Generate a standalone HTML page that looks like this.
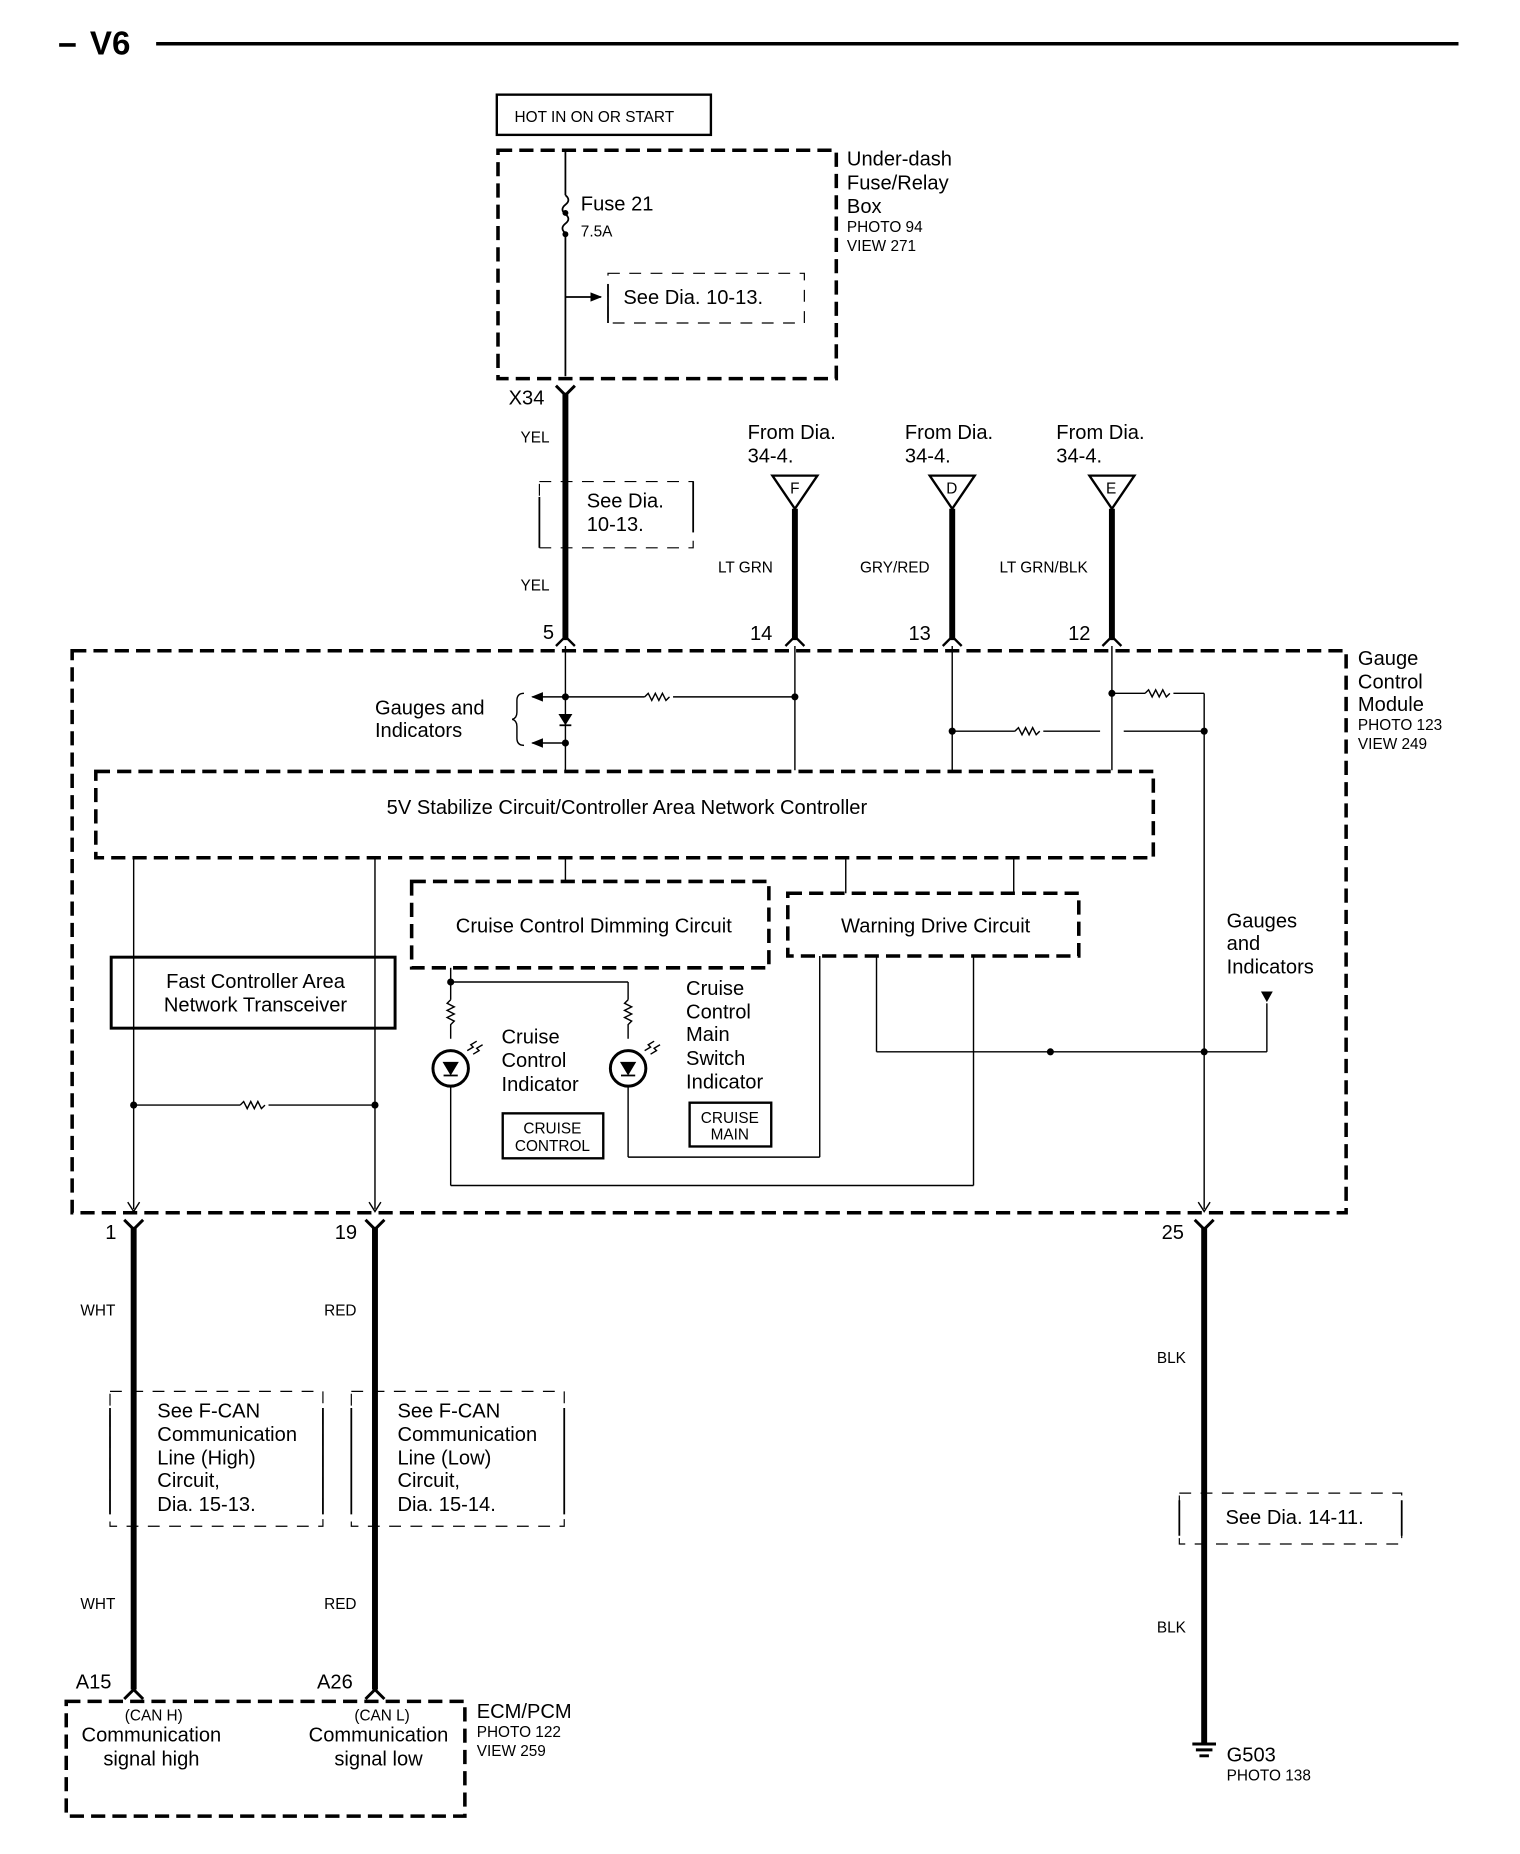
<!DOCTYPE html>
<html><head><meta charset="utf-8"><style>
html,body{margin:0;padding:0;background:#fff;}
svg{display:block;}
text{font-family:"Liberation Sans",sans-serif;fill:#000;}
.b{font-size:17px;}
.s{font-size:13px;}
</style></head><body>
<svg width="1520" height="1854" viewBox="0 0 1285 1567" preserveAspectRatio="none" xmlns="http://www.w3.org/2000/svg">
<defs>
<marker id="ah" markerWidth="10" markerHeight="10" refX="9" refY="5" orient="auto" markerUnits="userSpaceOnUse"><path d="M0,1 L10,5 L0,9 Z" fill="#000"/></marker>
</defs>
<g fill="none" stroke="#000">
<line x1="50" y1="38" x2="64" y2="38" stroke-width="3"/>
<line x1="132" y1="37" x2="1233" y2="37" stroke-width="3"/>
<rect x="420" y="80" width="181" height="34" stroke-width="2"/>
<rect x="421" y="127" width="286" height="193" stroke-width="3" stroke-dasharray="12,6"/>
<line x1="478" y1="127" x2="478" y2="165" stroke-width="1.5"/>
<path d="M478,165 q5,4 0,8 q-5,4 0,8 q5,4 0,8 q-5,4 0,8" stroke-width="1.5"/>
<line x1="478" y1="197" x2="478" y2="318" stroke-width="1.5"/>
<line x1="478" y1="251" x2="508" y2="251" stroke-width="1.5" marker-end="url(#ah)"/>
<path d="M514,231 L680,231 L680,273 L514,273 Z" stroke-width="1" stroke-dasharray="10,8"/>
<line x1="514" y1="240" x2="514" y2="273" stroke-width="1.5"/>
<path d="M470,326 L478,334 L486,326" stroke-width="2.5"/>
<line x1="478" y1="332" x2="478" y2="541" stroke-width="5"/>
<path d="M456,407 L586,407 L586,463 L456,463 Z" stroke-width="1" stroke-dasharray="10,8"/>
<line x1="456" y1="420" x2="456" y2="463" stroke-width="1.5"/>
<line x1="586" y1="407" x2="586" y2="450" stroke-width="1.5"/>
<path d="M653,402 L691,402 L672,430 Z" stroke-width="2"/>
<path d="M786,402 L824,402 L805,430 Z" stroke-width="2"/>
<path d="M921,402 L959,402 L940,430 Z" stroke-width="2"/>
<line x1="672" y1="430" x2="672" y2="541" stroke-width="5"/>
<line x1="805" y1="430" x2="805" y2="541" stroke-width="5"/>
<line x1="940" y1="430" x2="940" y2="541" stroke-width="5"/>
<path d="M470,546 L478,538 L486,546 M664,546 L672,538 L680,546 M797,546 L805,538 L813,546 M932,546 L940,538 L948,546" stroke-width="2"/>
<rect x="61" y="550" width="1077" height="475" stroke-width="3" stroke-dasharray="12,6"/>
<g stroke-width="1.2">
<line x1="478" y1="546" x2="478" y2="651"/>
<line x1="478" y1="589" x2="450" y2="589" marker-end="url(#ah)"/>
<line x1="478" y1="628" x2="450" y2="628" marker-end="url(#ah)"/>
<line x1="478" y1="589" x2="545" y2="589"/>
<path d="M545,589 l3,-3 l3,6 l3,-6 l3,6 l3,-6 l3,6 l3,-3"/>
<line x1="569" y1="589" x2="672" y2="589"/>
<line x1="672" y1="546" x2="672" y2="651"/>
<line x1="805" y1="546" x2="805" y2="651"/>
<line x1="805" y1="618" x2="858" y2="618"/>
<path d="M858,618 l3,-3 l3,6 l3,-6 l3,6 l3,-6 l3,6 l3,-3"/>
<line x1="882" y1="618" x2="930" y2="618"/>
<line x1="950" y1="618" x2="1018" y2="618"/>
<line x1="940" y1="546" x2="940" y2="651"/>
<line x1="940" y1="586" x2="968" y2="586"/>
<path d="M968,586 l3,-3 l3,6 l3,-6 l3,6 l3,-6 l3,6 l3,-3"/>
<line x1="992" y1="586" x2="1018" y2="586"/>
<line x1="1018" y1="586" x2="1018" y2="1022"/>
<path d="M1013,1016 L1018,1024 L1023,1016"/>
<path d="M443,586 q-6,0 -6,6 l0,10 q0,5 -4,6 q4,1 4,6 l0,10 q0,6 6,6"/>
<line x1="113" y1="725" x2="113" y2="1022"/>
<line x1="317" y1="725" x2="317" y2="1022"/>
<path d="M108,1016 L113,1024 L118,1016 M312,1016 L317,1024 L322,1016"/>
<line x1="113" y1="934" x2="203" y2="934"/>
<path d="M203,934 l3,-3 l3,6 l3,-6 l3,6 l3,-6 l3,6 l3,-3"/>
<line x1="227" y1="934" x2="317" y2="934"/>
<line x1="478" y1="725" x2="478" y2="745"/>
<line x1="715" y1="725" x2="715" y2="755"/>
<line x1="857" y1="725" x2="857" y2="755"/>
<line x1="381" y1="818" x2="381" y2="845"/>
<line x1="381" y1="830" x2="531" y2="830"/>
<line x1="531" y1="830" x2="531" y2="845"/>
<path d="M381,845 l-3,3 l6,3 l-6,3 l6,3 l-6,3 l6,3 l-3,3 l0,12"/>
<path d="M531,845 l-3,3 l6,3 l-6,3 l6,3 l-6,3 l6,3 l-3,3 l0,12"/>
<line x1="381" y1="918" x2="381" y2="1002"/>
<line x1="381" y1="1002" x2="823" y2="1002"/>
<line x1="823" y1="1002" x2="823" y2="808"/>
<line x1="531" y1="918" x2="531" y2="978"/>
<line x1="531" y1="978" x2="693" y2="978"/>
<line x1="693" y1="978" x2="693" y2="808"/>
<line x1="741" y1="808" x2="741" y2="889"/>
<line x1="741" y1="889" x2="1071" y2="889"/>
<line x1="1071" y1="889" x2="1071" y2="848"/>
</g>
<path d="M1066,838 L1076,838 L1071,847 Z" fill="#000" stroke="none"/>
<path d="M473,604 L483,604 L478,612 Z" fill="#000" stroke-width="1"/>
<line x1="473" y1="613" x2="483" y2="613" stroke-width="1.5"/>
<circle cx="381" cy="903" r="15" stroke-width="2.5"/>
<circle cx="531" cy="903" r="15" stroke-width="2.5"/>
<path d="M375,898 L387,898 L381,908 Z" fill="#000" stroke-width="1"/>
<line x1="375" y1="909" x2="387" y2="909" stroke-width="1.5"/>
<path d="M525,898 L537,898 L531,908 Z" fill="#000" stroke-width="1"/>
<line x1="525" y1="909" x2="537" y2="909" stroke-width="1.5"/>
<path d="M395,888 l5,-3 l-2,-2 l5,-3 M400,891 l5,-3 l-2,-2 l5,-3" stroke-width="1.2"/>
<path d="M545,888 l5,-3 l-2,-2 l5,-3 M550,891 l5,-3 l-2,-2 l5,-3" stroke-width="1.2"/>
<rect x="81" y="652" width="894" height="73" stroke-width="3" stroke-dasharray="12,6"/>
<rect x="94" y="809" width="240" height="60" stroke-width="2.5"/>
<rect x="348" y="745" width="302" height="73" stroke-width="3" stroke-dasharray="12,6"/>
<rect x="666" y="755" width="246" height="53" stroke-width="3" stroke-dasharray="12,6"/>
<rect x="425" y="941" width="85" height="38" stroke-width="2"/>
<rect x="583" y="932" width="69" height="37" stroke-width="2"/>
<path d="M105,1031 L113,1039 L121,1031 M309,1031 L317,1039 L325,1031 M1010,1031 L1018,1039 L1026,1031" stroke-width="2.5"/>
<line x1="113" y1="1037" x2="113" y2="1428" stroke-width="5"/>
<line x1="317" y1="1037" x2="317" y2="1428" stroke-width="5"/>
<line x1="1018" y1="1037" x2="1018" y2="1474" stroke-width="5"/>
<path d="M105,1436 L113,1428 L121,1436 M309,1436 L317,1428 L325,1436" stroke-width="2.5"/>
<g stroke-width="1" stroke-dasharray="10,8">
<rect x="93" y="1176" width="180" height="114"/>
<rect x="297" y="1176" width="180" height="114"/>
<rect x="997" y="1262" width="188" height="43"/>
</g>
<path d="M93,1190 L93,1280 M273,1190 L273,1280 M297,1190 L297,1280 M477,1190 L477,1280 M997,1268 L997,1298 M1185,1268 L1185,1298" stroke-width="1.5"/>
<rect x="56" y="1438" width="337" height="97" stroke-width="3" stroke-dasharray="12,6"/>
<path d="M1008,1474 L1028,1474 M1011,1479 L1025,1479 M1014,1484 L1022,1484" stroke-width="2.5"/>
</g>
<g fill="#000">
<circle cx="478" cy="589" r="3"/><circle cx="478" cy="628" r="3"/><circle cx="672" cy="589" r="3"/>
<circle cx="805" cy="618" r="3"/><circle cx="1018" cy="618" r="3"/><circle cx="940" cy="586" r="3"/>
<circle cx="113" cy="934" r="3"/><circle cx="317" cy="934" r="3"/><circle cx="381" cy="830" r="3"/>
<circle cx="888" cy="889" r="3"/><circle cx="1018" cy="889" r="3"/>
<circle cx="478" cy="180" r="2.5"/><circle cx="478" cy="198" r="2.5"/>
</g>
<text x="76" y="46" style="font-size:28px;font-weight:bold">V6</text>
<text x="435" y="103" class="s">HOT IN ON OR START</text>
<text x="491" y="178" class="b">Fuse 21</text>
<text x="491" y="200" class="s">7.5A</text>
<text x="527" y="257" class="b">See Dia. 10-13.</text>
<text x="716" y="140" class="b">Under-dash</text>
<text x="716" y="160" class="b">Fuse/Relay</text>
<text x="716" y="180" class="b">Box</text>
<text x="716" y="196" class="s">PHOTO 94</text>
<text x="716" y="212" class="s">VIEW 271</text>
<text x="430" y="342" class="b">X34</text>
<text x="440" y="374" class="s">YEL</text>
<text x="440" y="499" class="s">YEL</text>
<text x="496" y="429" class="b">See Dia.</text>
<text x="496" y="449" class="b">10-13.</text>
<text x="632" y="371" class="b">From Dia.</text><text x="632" y="391" class="b">34-4.</text>
<text x="765" y="371" class="b">From Dia.</text><text x="765" y="391" class="b">34-4.</text>
<text x="893" y="371" class="b">From Dia.</text><text x="893" y="391" class="b">34-4.</text>
<text x="668" y="417" class="s">F</text><text x="800" y="417" class="s">D</text><text x="935" y="417" class="s">E</text>
<text x="607" y="484" class="s">LT GRN</text>
<text x="727" y="484" class="s">GRY/RED</text>
<text x="845" y="484" class="s">LT GRN/BLK</text>
<text x="459" y="540" class="b">5</text>
<text x="634" y="541" class="b">14</text>
<text x="768" y="541" class="b">13</text>
<text x="903" y="541" class="b">12</text>
<text x="1148" y="562" class="b">Gauge</text>
<text x="1148" y="582" class="b">Control</text>
<text x="1148" y="601" class="b">Module</text>
<text x="1148" y="617" class="s">PHOTO 123</text>
<text x="1148" y="633" class="s">VIEW 249</text>
<text x="317" y="604" class="b">Gauges and</text>
<text x="317" y="623" class="b">Indicators</text>
<text x="530" y="688" class="b" text-anchor="middle">5V Stabilize Circuit/Controller Area Network Controller</text>
<text x="216" y="835" class="b" text-anchor="middle">Fast Controller Area</text>
<text x="216" y="855" class="b" text-anchor="middle">Network Transceiver</text>
<text x="502" y="788" class="b" text-anchor="middle">Cruise Control Dimming Circuit</text>
<text x="791" y="788" class="b" text-anchor="middle">Warning Drive Circuit</text>
<text x="424" y="882" class="b">Cruise</text>
<text x="424" y="902" class="b">Control</text>
<text x="424" y="922" class="b">Indicator</text>
<text x="580" y="841" class="b">Cruise</text>
<text x="580" y="861" class="b">Control</text>
<text x="580" y="880" class="b">Main</text>
<text x="580" y="900" class="b">Switch</text>
<text x="580" y="920" class="b">Indicator</text>
<text x="467" y="958" class="s" text-anchor="middle">CRUISE</text>
<text x="467" y="973" class="s" text-anchor="middle">CONTROL</text>
<text x="617" y="949" class="s" text-anchor="middle">CRUISE</text>
<text x="617" y="963" class="s" text-anchor="middle">MAIN</text>
<text x="1037" y="784" class="b">Gauges</text>
<text x="1037" y="803" class="b">and</text>
<text x="1037" y="823" class="b">Indicators</text>
<text x="89" y="1047" class="b">1</text>
<text x="283" y="1047" class="b">19</text>
<text x="982" y="1047" class="b">25</text>
<text x="68" y="1112" class="s">WHT</text>
<text x="274" y="1112" class="s">RED</text>
<text x="68" y="1360" class="s">WHT</text>
<text x="274" y="1360" class="s">RED</text>
<text x="978" y="1152" class="s">BLK</text>
<text x="978" y="1380" class="s">BLK</text>
<text x="133" y="1198" class="b">See F-CAN</text>
<text x="133" y="1218" class="b">Communication</text>
<text x="133" y="1238" class="b">Line (High)</text>
<text x="133" y="1257" class="b">Circuit,</text>
<text x="133" y="1277" class="b">Dia. 15-13.</text>
<text x="336" y="1198" class="b">See F-CAN</text>
<text x="336" y="1218" class="b">Communication</text>
<text x="336" y="1238" class="b">Line (Low)</text>
<text x="336" y="1257" class="b">Circuit,</text>
<text x="336" y="1277" class="b">Dia. 15-14.</text>
<text x="1036" y="1288" class="b">See Dia. 14-11.</text>
<text x="64" y="1427" class="b">A15</text>
<text x="268" y="1427" class="b">A26</text>
<text x="130" y="1454" class="s" text-anchor="middle">(CAN H)</text>
<text x="128" y="1472" class="b" text-anchor="middle">Communication</text>
<text x="128" y="1492" class="b" text-anchor="middle">signal high</text>
<text x="323" y="1454" class="s" text-anchor="middle">(CAN L)</text>
<text x="320" y="1472" class="b" text-anchor="middle">Communication</text>
<text x="320" y="1492" class="b" text-anchor="middle">signal low</text>
<text x="403" y="1452" class="b">ECM/PCM</text>
<text x="403" y="1468" class="s">PHOTO 122</text>
<text x="403" y="1484" class="s">VIEW 259</text>
<text x="1037" y="1489" class="b">G503</text>
<text x="1037" y="1505" class="s">PHOTO 138</text>
</svg>
</body></html>
